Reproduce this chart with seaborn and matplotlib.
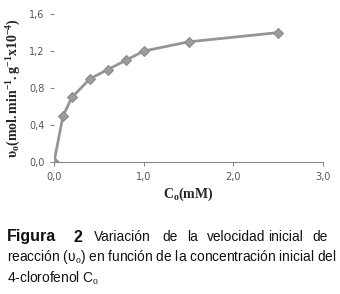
import matplotlib
matplotlib.use("Agg")
import matplotlib.pyplot as plt
import seaborn as sns
import pandas as pd

# concentración inicial (mM) y velocidad inicial (x10^-4)
conc = [0.0, 0.1, 0.2, 0.4, 0.6, 0.8, 1.0, 1.5, 2.5]
vel = [0.0, 0.5, 0.7, 0.9, 1.0, 1.1, 1.2, 1.3, 1.4]
xticks = [0.0, 1.0, 2.0, 3.0]
yticks = [0.0, 0.4, 0.8, 1.2, 1.6]

sns.set_theme(style="white")
plt.rcParams["font.family"] = ["DejaVu Sans"]
plt.rcParams["mathtext.fontset"] = "custom"
plt.rcParams["mathtext.rm"] = "Liberation Serif"
plt.rcParams["mathtext.bf"] = "Liberation Serif:bold"
plt.rcParams["mathtext.it"] = "Liberation Serif:italic"

df = pd.DataFrame({"conc": conc, "vel": vel})

fig = plt.figure(figsize=(3.4, 2.94), dpi=100)
ax = fig.add_axes([0.159, 0.449, 0.791, 0.503])

sns.lineplot(data=df, x="conc", y="vel", ax=ax, color="#959595", linewidth=2.0,
             marker="D", markersize=5, markerfacecolor="#9c9c9c",
             markeredgecolor="#8a8a8a")

ax.set_xlim(0, 3)
ax.set_ylim(0, 1.6)
ax.set_xticks(xticks)
ax.set_yticks(yticks)
ax.set_xticklabels([f"{t:.1f}".replace(".", ",") for t in xticks])
ax.set_yticklabels([f"{t:.1f}".replace(".", ",") for t in yticks])
ax.tick_params(axis="both", labelsize=7, labelcolor="#555555", color="#888888",
               length=3, width=0.8, pad=4)
ax.tick_params(axis="x", bottom=True, direction="out")
ax.tick_params(axis="y", left=True, direction="out")
for s in ["top", "right", "left"]:
    ax.spines[s].set_visible(False)
ax.spines["bottom"].set_color("#888888")
ax.spines["bottom"].set_linewidth(0.8)

ax.set_xlabel(r"$\mathbf{C_o(mM)}$", fontsize=10, labelpad=3)
ax.set_ylabel(r"$\mathbf{υ_o(mol.min^{-1}.g^{-1}x10^{-4})}$", fontsize=10, labelpad=4)

# leyenda de la figura
cap = dict(fontsize=9.9, family=["Liberation Sans"], color="#111111", va="center")
y1, y2, y3 = 1 - 237 / 294, 1 - 257 / 294, 1 - 278 / 294
fig.text(7 / 340, y1, "Figura", fontweight="bold",
         **{**cap, "fontsize": 11.5})
fig.text(73 / 340, y1, "2", fontweight="bold", **{**cap, "fontsize": 11.5})
words1 = [("Variación", 94), ("de", 162), ("la", 187), ("velocidad", 207),
          ("inicial", 268), ("de", 312)]
for w, px in words1:
    fig.text(px / 340, y1, w, **cap)
fig.text(7 / 340, y2, r"reacción (υ$_\mathrm{o}$) en función de la concentración inicial del", **cap)
fig.text(7 / 340, y3, r"4-clorofenol C$_\mathrm{o}$", **cap)

fig.savefig("out.png", dpi=100)
